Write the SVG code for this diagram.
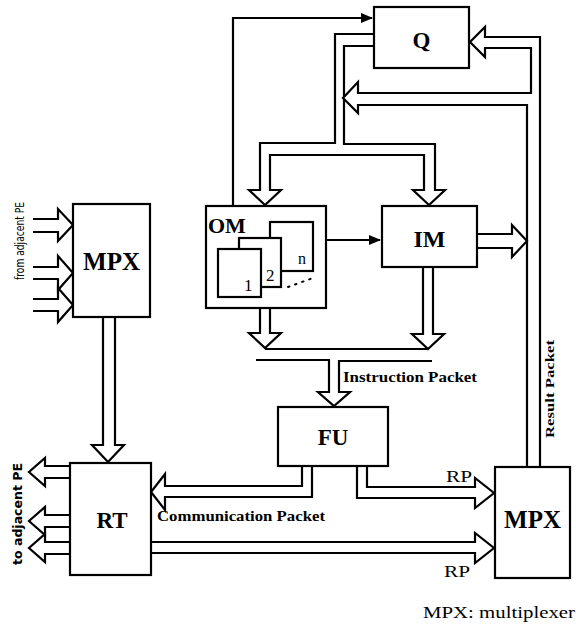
<svg xmlns="http://www.w3.org/2000/svg" width="576" height="625" viewBox="0 0 576 625">
<style>
.box{fill:#fff;stroke:#000;stroke-width:2.2}
.ln{fill:none;stroke:#000;stroke-width:2.2;stroke-linejoin:miter}
.hl{fill:#fff;stroke:#000;stroke-width:2.2;stroke-linejoin:miter}
.t{font-family:"Liberation Serif",serif;font-weight:bold;fill:#000}
.r{font-family:"Liberation Serif",serif;font-weight:normal;fill:#000}
.s{font-family:"DejaVu Sans","Liberation Sans",sans-serif;fill:#000}
</style>
<defs>
<marker id="ah" markerWidth="12" markerHeight="10" refX="11" refY="5" orient="auto" markerUnits="userSpaceOnUse">
<path d="M0,0 L12,5 L0,10 Z" fill="#000"/>
</marker>
</defs>
<rect width="576" height="625" fill="#fff"/>
<g id="connectors">
<path class="ln" d="M233,206 V18 H372" marker-end="url(#ah)"/>
<path class="ln" d="M326,240 H380" marker-end="url(#ah)"/>
<path class="hl" d="M374,34 H335 V143 H260 V190 H249 L265,205 L281,190 H270 V155 H424 V190 H413 L429,205 L445,190 H435 V144 H344 V46 H374"/>
<path class="hl" d="M527,467 V105 H358 V113 L343,98 L358,82 V93 H531 V48 H485 V57 L470,42 L485,27 V37 H540 V467"/>
<path class="hl" d="M477,234 H512 V225 L527,241 L512,257 V248 H477"/>
<path class="hl" d="M260,308 V333 H249 L265,348 L281,333 H270 V308"/>
<path class="hl" d="M423,267 V334 H412 L428,349 L444,334 H433 V267"/>
<path class="ln" d="M265,349 H428"/>
<path class="hl" d="M256,360 H329 V392 H318 L334,406 L350,392 H339 V361 H432"/>
<path class="hl" d="M302,466 V486 H165 V474 L151,492 L165,510 V497 H312 V466"/>
<path class="hl" d="M367,466 V487 H475 V478 L494,493 L475,508 V498 H357 V466"/>
<path class="hl" d="M151,542 H475 V533 L494,548 L475,563 V553 H151"/>
<path class="hl" d="M103,317 V445 H92 L108,462 L124,445 H115 V317"/>
<path class="hl" d="M33,219 H58 V209 L73,225 L58,241 V232 H33"/>
<path class="hl" d="M33,267 H58 V256 L73,273 L58,290 V279 H33"/>
<path class="hl" d="M33,299 H58 V288 L73,305 L58,322 V311 H33"/>
<path class="hl" d="M70,466 H45 V458 L29,472 L45,486 V478 H70"/>
<path class="hl" d="M70,515 H45 V507 L29,521 L45,535 V527 H70"/>
<path class="hl" d="M70,542 H45 V534 L29,548 L45,562 V554 H70"/>
</g>
<g id="Q">
<rect class="box" x="374" y="7" width="95" height="61"/>
<text class="t" x="421.5" y="48" font-size="23" text-anchor="middle">Q</text>
</g>
<g id="OM">
<rect class="box" x="206" y="206" width="120" height="102"/>
<text class="t" x="208" y="233" font-size="22">OM</text>
<rect class="box" x="270" y="222" width="43" height="49"/>
<rect class="box" x="239" y="238" width="42" height="49"/>
<rect class="box" x="218" y="249" width="43" height="48"/>
<text class="r" x="298" y="264" font-size="16">n</text>
<text class="r" x="266" y="281" font-size="17">2</text>
<text class="r" x="244" y="291" font-size="17">1</text>
<path d="M288,287 L313,278" fill="none" stroke="#000" stroke-width="2" stroke-dasharray="1.5 6" stroke-linecap="round"/>
</g>
<g id="IM">
<rect class="box" x="382" y="206" width="95" height="61"/>
<text class="t" x="429.5" y="247" font-size="24" text-anchor="middle">IM</text>
</g>
<g id="FU">
<rect class="box" x="278" y="407" width="110" height="59"/>
<text class="t" x="333" y="445" font-size="23" text-anchor="middle">FU</text>
</g>
<g id="MPX-left">
<rect class="box" x="73" y="204" width="77" height="113"/>
<text class="t" x="111.5" y="270" font-size="25" text-anchor="middle">MPX</text>
</g>
<g id="RT">
<rect class="box" x="70" y="463" width="81" height="112"/>
<text class="t" x="112" y="528" font-size="23" text-anchor="middle">RT</text>
</g>
<g id="MPX-right">
<rect class="box" x="495" y="467" width="75" height="111"/>
<text class="t" x="532.5" y="528" font-size="25" text-anchor="middle">MPX</text>
</g>
<g id="labels">
<text class="t" x="343" y="382" font-size="14" textLength="134" lengthAdjust="spacingAndGlyphs">Instruction Packet</text>
<text class="t" x="157" y="521" font-size="14" textLength="168" lengthAdjust="spacingAndGlyphs">Communication Packet</text>
<text class="r" x="446" y="482" font-size="17" textLength="26" lengthAdjust="spacingAndGlyphs">RP</text>
<text class="r" x="444" y="577" font-size="17" textLength="26" lengthAdjust="spacingAndGlyphs">RP</text>
<text class="r" x="423" y="618" font-size="17" textLength="152" lengthAdjust="spacingAndGlyphs">MPX: multiplexer</text>
<text class="t" transform="translate(554,438) rotate(-90)" font-size="13" textLength="98" lengthAdjust="spacingAndGlyphs">Result Packet</text>
<text class="s" transform="translate(24,280) rotate(-90)" font-size="12" textLength="78" lengthAdjust="spacingAndGlyphs">from adjacent PE</text>
<text class="s" transform="translate(22,565) rotate(-90)" font-size="13" font-weight="bold" textLength="102" lengthAdjust="spacingAndGlyphs">to adjacent PE</text>
</g>
</svg>
